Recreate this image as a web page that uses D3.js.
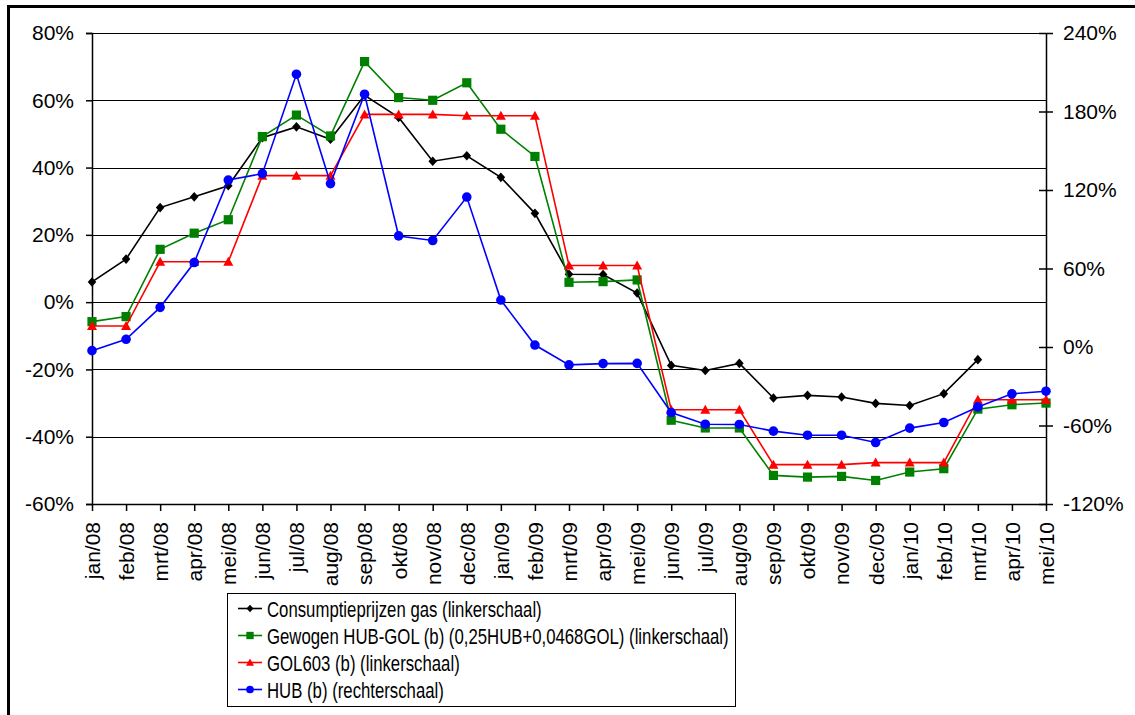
<!DOCTYPE html>
<html>
<head>
<meta charset="utf-8">
<script src="https://cdn.jsdelivr.net/npm/d3@7"></script>
<style>
  html, body { margin: 0; padding: 0; background: #fff; }
  svg { display: block; font-family: "Liberation Sans", Arial, sans-serif; }
</style>
</head>
<body>
<svg id="chart" width="1135" height="715"></svg>
<script>
const categories = ["jan/08","feb/08","mrt/08","apr/08","mei/08","jun/08","jul/08","aug/08","sep/08","okt/08","nov/08","dec/08",
  "jan/09","feb/09","mrt/09","apr/09","mei/09","jun/09","jul/09","aug/09","sep/09","okt/09","nov/09","dec/09",
  "jan/10","feb/10","mrt/10","apr/10","mei/10"];

const consumptieprijzen = [6.0,12.8,28.1,31.3,34.6,48.9,52.1,48.4,61.5,54.9,41.9,43.5,
  37.1,26.4,8.3,8.2,2.7,-18.8,-20.3,-18.2,-28.5,-27.7,-28.2,-30.1,-30.7,-27.2,-17.1,null,null];

const gewogen = [-5.8,-4.3,15.7,20.5,24.5,49.2,55.6,49.4,71.5,60.8,60.0,65.2,
  51.4,43.3,5.9,6.1,6.6,-35.1,-37.4,-37.4,-51.5,-52.0,-51.8,-53.0,-50.5,-49.5,-31.8,-30.5,-30.0];

const gol603 = [-7.1,-7.1,12.0,12.0,12.0,37.6,37.6,37.6,55.8,55.8,55.8,55.4,
  55.4,55.4,10.9,10.9,10.9,-32.0,-32.0,-32.0,-48.3,-48.3,-48.3,-47.7,-47.7,-47.7,-29.0,-29.0,-29.0];

const hub = [-2.8,5.9,30.3,64.6,127.6,132.5,208.5,124.9,193.2,84.9,81.4,114.6,
  35.9,1.5,-13.7,-12.7,-12.5,-50.1,-59.0,-59.2,-64.3,-67.4,-67.4,-73.0,-62.0,-57.7,-45.8,-35.8,-33.8];

const leftTicks = [-60,-40,-20,0,20,40,60,80];
const rightTicks = [-120,-60,0,60,120,180,240];

const legendLabels = [
  "Consumptieprijzen gas (linkerschaal)",
  "Gewogen HUB-GOL (b) (0,25HUB+0,0468GOL) (linkerschaal)",
  "GOL603 (b) (linkerschaal)",
  "HUB (b) (rechterschaal)"
];

const svg = d3.select("#chart");
const L = 92, R = 1046, T = 33, B = 504;

const x = d3.scalePoint().domain(categories).range([L, R]);
const yL = d3.scaleLinear().domain([-60, 80]).range([B, T]);
const yR = d3.scaleLinear().domain([-120, 240]).range([B, T]);

// outer border (left + top)
svg.append("line").attr("x1", 8.5).attr("x2", 8.5).attr("y1", 6.5).attr("y2", 715)
  .attr("stroke", "#000").attr("stroke-width", 3);
svg.append("line").attr("x1", 7).attr("x2", 1135).attr("y1", 6.5).attr("y2", 6.5)
  .attr("stroke", "#000").attr("stroke-width", 3);

// gridlines
svg.append("g").selectAll("line").data(leftTicks).join("line")
  .attr("x1", L).attr("x2", R)
  .attr("y1", d => Math.round(yL(d)) + 0.5).attr("y2", d => Math.round(yL(d)) + 0.5)
  .attr("stroke", "#000").attr("stroke-width", 1);

const fs = 21;

// left axis
const gl = svg.append("g").attr("transform", `translate(${L},0)`)
  .call(d3.axisLeft(yL).tickValues(leftTicks).tickFormat(d => d + "%").tickSize(6).tickPadding(12));
gl.selectAll("text").attr("font-size", fs).attr("fill", "#000").attr("font-family", "Liberation Sans, Arial, sans-serif");
gl.selectAll("line,path").attr("stroke", "#000").attr("stroke-width", 1.5);

// right axis
const gr = svg.append("g").attr("transform", `translate(${R},0)`)
  .call(d3.axisRight(yR).tickValues(rightTicks).tickFormat(d => d + "%").tickSizeInner(7).tickSizeOuter(0).tickPadding(10));
gr.selectAll(".tick line").attr("x1", -7);
gr.selectAll("text").attr("font-size", fs).attr("fill", "#000").attr("font-family", "Liberation Sans, Arial, sans-serif");
gr.selectAll("line,path").attr("stroke", "#000").attr("stroke-width", 1.5);

// bottom axis
const gb = svg.append("g").attr("transform", `translate(0,${B})`)
  .call(d3.axisBottom(x).tickSizeInner(7).tickSizeOuter(0));
gb.selectAll("line,path").attr("stroke", "#000").attr("stroke-width", 1.5);
gb.selectAll("text")
  .attr("font-size", fs).attr("fill", "#000").attr("font-family", "Liberation Sans, Arial, sans-serif")
  .attr("text-anchor", "end")
  .attr("transform", "rotate(-90)")
  .attr("x", -18).attr("y", 0).attr("dy", "0.35em");

// markers
const markerPath = {
  diamond: "M0,-4.8L4.3,0L0,4.8L-4.3,0Z",
  square: "M-4.6,-4.6H4.6V4.6H-4.6Z",
  triangle: "M0,-5L5,4H-5Z"
};

const series = [
  {name: legendLabels[0], data: consumptieprijzen, y: yL, color: "#000000", marker: "diamond"},
  {name: legendLabels[1], data: gewogen, y: yL, color: "#008000", marker: "square"},
  {name: legendLabels[2], data: gol603, y: yL, color: "#FF0000", marker: "triangle"},
  {name: legendLabels[3], data: hub, y: yR, color: "#0000FF", marker: "circle"}
];

function drawMarker(g, type, color) {
  if (type === "circle") {
    g.append("circle").attr("r", 4.8).attr("fill", color);
  } else {
    g.append("path").attr("d", markerPath[type]).attr("fill", color);
  }
}

series.forEach(s => {
  const pts = s.data.map((v, i) => ({c: categories[i], v})).filter(p => p.v !== null);
  const line = d3.line().x(p => x(p.c)).y(p => s.y(p.v));
  svg.append("path").datum(pts).attr("d", line)
    .attr("fill", "none").attr("stroke", s.color).attr("stroke-width", 1.6);
  pts.forEach(p => {
    const g = svg.append("g").attr("transform", `translate(${x(p.c)},${s.y(p.v)})`);
    drawMarker(g, s.marker, s.color);
  });
});

// legend
const lg = svg.append("g");
lg.append("rect").attr("x", 227.5).attr("y", 593.5).attr("width", 508).attr("height", 113)
  .attr("fill", "#fff").attr("stroke", "#000").attr("stroke-width", 1);
series.forEach((s, i) => {
  const by = 616.5 + i * 27;
  const ly = by - 8;
  lg.append("line").attr("x1", 238).attr("x2", 262).attr("y1", ly).attr("y2", ly)
    .attr("stroke", s.color).attr("stroke-width", 1.6);
  const mg = lg.append("g").attr("transform", `translate(250,${ly}) scale(0.8)`);
  drawMarker(mg, s.marker, s.color);
  lg.append("g").attr("transform", `translate(267,${by}) scale(0.745,1)`)
    .append("text").attr("x", 0).attr("y", 0)
    .attr("font-size", 22.5).attr("fill", "#000")
    .text(s.name);
});
</script>
</body>
</html>
